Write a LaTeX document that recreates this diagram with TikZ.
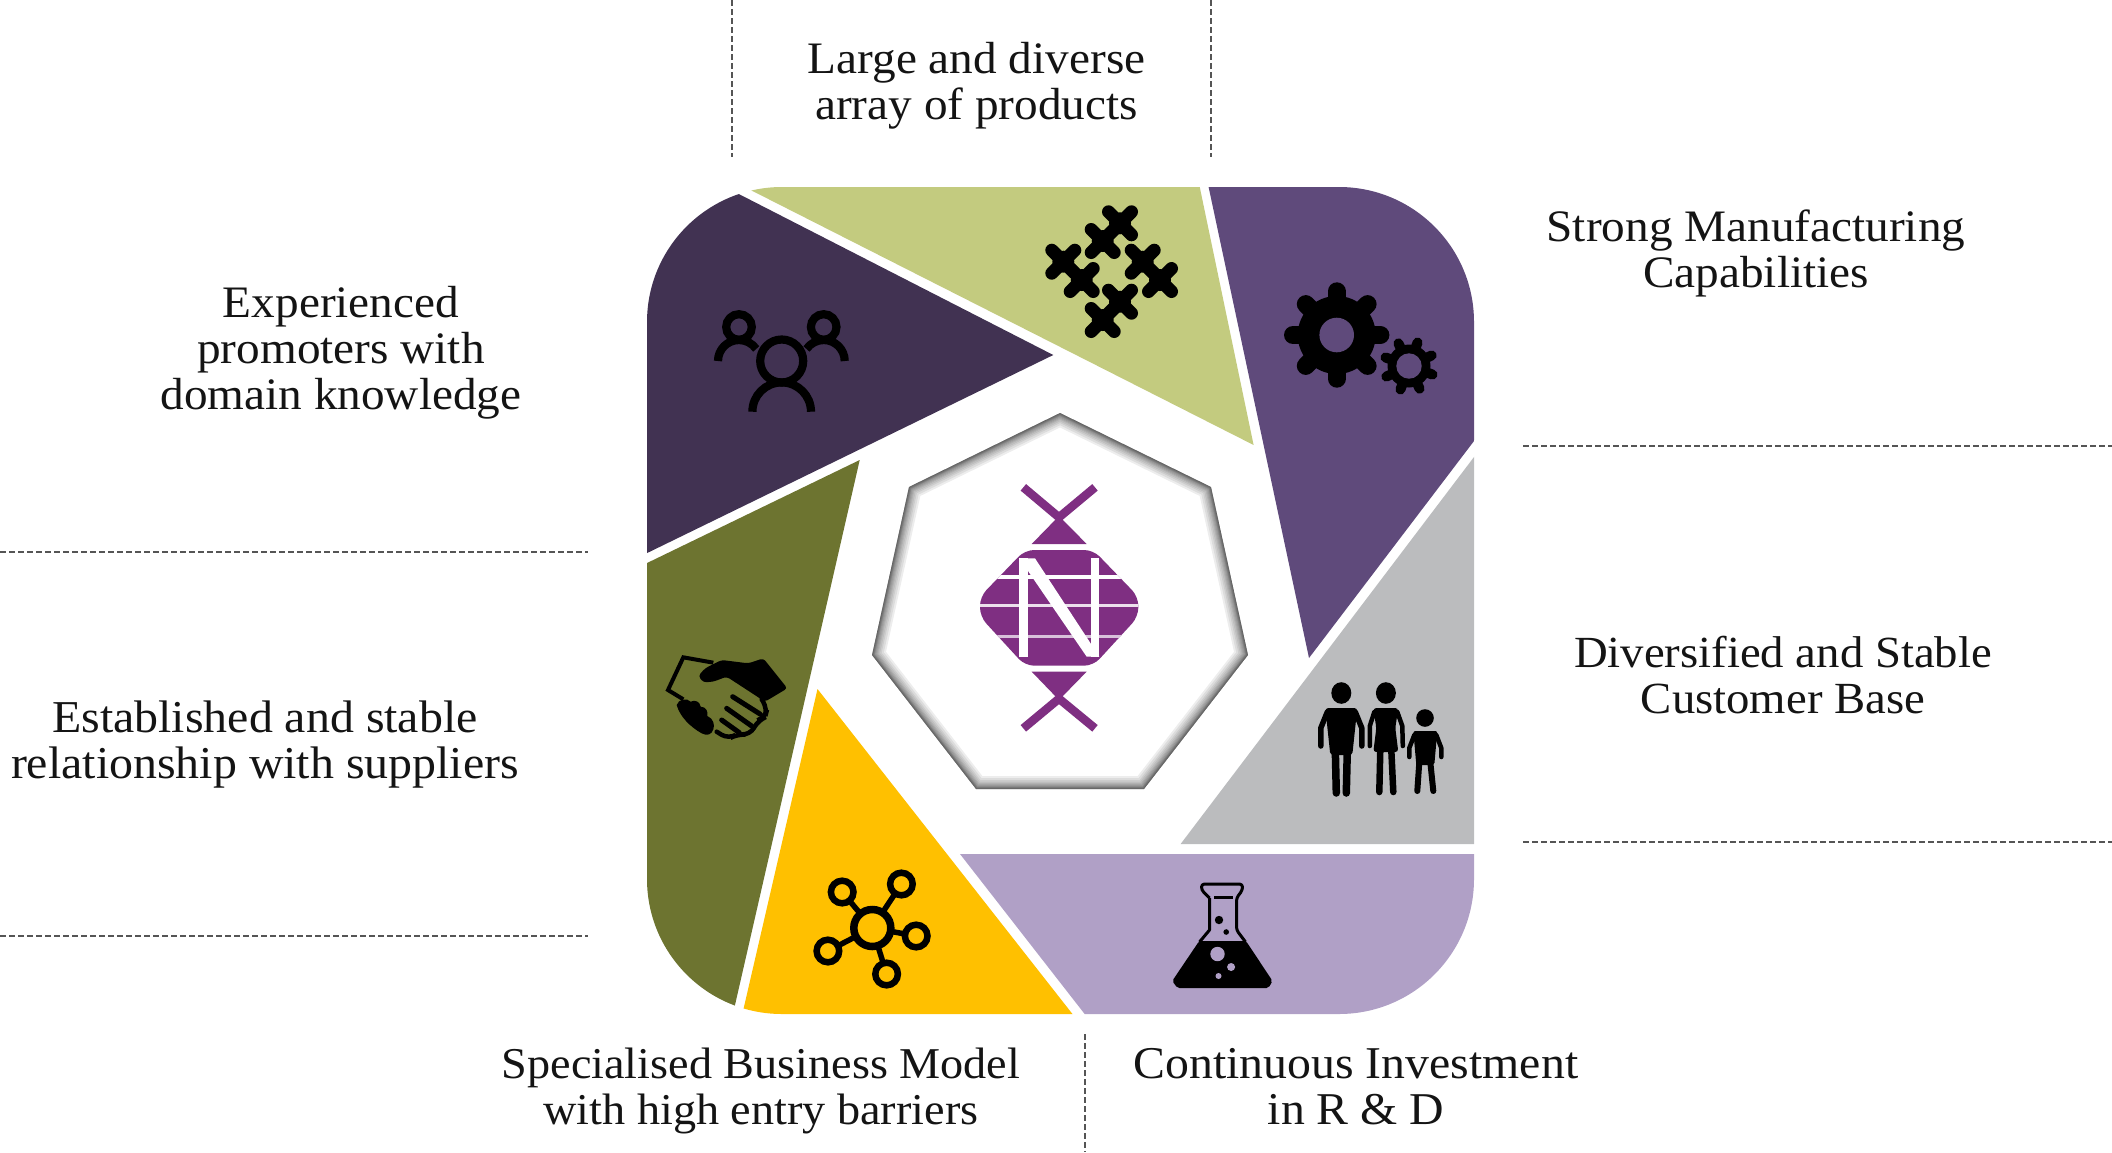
\documentclass[tikz,border=0pt]{standalone}
\usepackage{fontspec}
\setmainfont{Liberation Serif}[FakeStretch=1.05]
\definecolor{cdark}{HTML}{413252}
\definecolor{clime}{HTML}{C3CB7F}
\definecolor{cpurple}{HTML}{5F4A7B}
\definecolor{cgray}{HTML}{BBBCBE}
\definecolor{clight}{HTML}{B0A0C6}
\definecolor{cyellow}{HTML}{FFC000}
\definecolor{colive}{HTML}{6D7430}
\definecolor{clogo}{HTML}{7F2F82}
\definecolor{cdash}{HTML}{555555}
\tikzset{
  label text/.style={font=\fontsize{45}{46}\selectfont,align=center,inner sep=0pt,text=black!92},
  divider/.style={draw=cdash,line width=1.6pt,dash pattern=on 5.5pt off 3.5pt},
}
\begin{document}
\begin{tikzpicture}[x=1pt,y=-1pt]
\useasboundingbox (0,0) rectangle (2112,1152);
% segments
\begin{scope}
\clip[rounded corners=135pt] (647,187) rectangle (1474,1014);
\fill[cdark] (1053.3,355) -- (645,146) -- (600,146) -- (600,576) -- cycle;
\fill[clime] (1253.6,445) -- (700,164.4) -- (700,150) -- (1192,150) -- cycle;
\fill[cpurple] (1309,658) -- (1200.7,150) -- (1520,150) -- (1520,380.5) -- cycle;
\fill[cgray] (1180.6,844) -- (1520,396.3) -- (1520,844) -- cycle;
\fill[clight] (960,854) -- (1520,854) -- (1520,1050) -- (1112.7,1050) -- cycle;
\fill[cyellow] (817.5,689) -- (1100.7,1050) -- (734,1050) -- cycle;
\fill[colive] (859.7,460) -- (600,585.8) -- (600,1050) -- (724.7,1050) -- cycle;
\end{scope}
% heptagon with inner shadow
\begin{scope}
\clip (1060,413) -- (1211,487) -- (1248,655) -- (1144,789) -- (976,789) -- (872,655) -- (909,487) -- cycle;
\foreach \w in {1,2,3,4,5,6,8,10,12,15,18,22,26}
  \draw[black,opacity=.07,line width=\w pt,line join=miter] (1060,413) -- (1211,487) -- (1248,655) -- (1144,789) -- (976,789) -- (872,655) -- (909,487) -- cycle;
\end{scope}
% logo
\begin{scope}[shift={(860,400)},x=.33333pt,y=-.33333pt]
\draw[clogo,line width=8.5pt] (490,262) -- (597,352) -- (705,262);
\draw[clogo,line width=8.5pt] (490,985) -- (597,896) -- (705,985);
\fill[clogo] (597,348) -- (680,432) -- (515,432) -- cycle;
\fill[clogo] (597,900) -- (680,815) -- (515,815) -- cycle;
\begin{scope}
\clip[rounded corners=9pt] (495,450) -- (700,450) -- (835,590) -- (835,650) -- (700,797) -- (495,797) -- (360,650) -- (360,590) -- cycle;
\fill[clogo] (350,440) rectangle (845,800);
\fill[white] (350,524) rectangle (845,538);
\fill[white!85!clogo] (350,612) rectangle (845,622);
\fill[white!70!clogo] (350,704) rectangle (845,714);
\end{scope}
\fill[white] (478,475) rectangle (505,770);
\fill[white] (692,475) rectangle (718,770);
\fill[white] (478,475) -- (525,475) -- (718,770) -- (680,770) -- cycle;
\end{scope}
% people icon
\begin{scope}[line width=8.2pt,draw=black]
\draw (739,327) circle[radius=12.8];
\draw (823.7,327) circle[radius=12.8];
\draw (781.7,361) circle[radius=21.5];
\draw (718,361) arc[start angle=180,end angle=325,radius=21];
\draw (844.7,361) arc[start angle=360,end angle=215,radius=21];
\draw (752.4,411.7) arc[start angle=180,end angle=360,radius=29.3];
\end{scope}
% puzzle icon
\foreach \cx/\cy in {1120/223.3,1102.7/241,1142.7/261.7,1160/280,1120/301.7,1102.7/320,1063.3/261.7,1081.7/280}{
  \fill (\cx,\cy) circle[radius=11];
  \draw[line width=13pt,line cap=round] (\cx-11.5,\cy-11.5) -- (\cx+11.5,\cy+11.5);
  \draw[line width=13pt,line cap=round] (\cx-11.5,\cy+11.5) -- (\cx+11.5,\cy-11.5);
}
% gears
\fill (1336.7,335) circle[radius=39];
\foreach \a in {0,45,...,315}
  \draw[line width=18pt,line cap=round] (1336.7,335) -- ++(\a:43.7);
\fill[cpurple] (1336.7,335) circle[radius=17.3];
\fill (1409,366) circle[radius=21.5];
\foreach \a in {20,65,...,335}
  \draw[line width=10pt,line cap=round] (1409,366) -- ++(\a:25);
\fill[cpurple] (1409,366) circle[radius=12.7];
% handshake
\begin{scope}[shift={(650,640)},x=.33333pt,y=-.33333pt]
\draw[line width=4pt,line join=miter] (190,68) -- (100,52) -- (54,150) -- (100,178);
\fill[rounded corners=3pt] (340,55) -- (412,145) -- (345,185) -- (230,110) -- (190,125) -- (160,127) -- (145,108) -- (165,85) -- (215,60) -- (295,70) -- cycle;
\draw[line width=4.5pt,rounded corners=8pt,line cap=round] (335,178) -- (352,205) -- (345,232) -- (325,240) -- (300,285) -- (262,282) -- (235,297) -- (200,275);
\foreach \x/\y/\u/\v in {248/170/330/222,230/205/305/258,215/240/268/278}
  \draw[line width=5pt,line cap=round] (\x,\y) -- (\u,\v);
\fill (80,195) .. controls (85,178) and (110,172) .. (122,185) .. controls (135,178) and (150,185) .. (152,200) .. controls (168,200) and (175,215) .. (172,228) .. controls (190,235) and (195,255) .. (190,268) .. controls (185,285) and (170,288) .. (155,280) .. controls (120,260) and (90,230) .. (80,195) -- cycle;
\end{scope}
% network
\foreach \x/\y in {842.2/892,901.4/884,916.2/936,886.6/974,827.9/951}
  \draw[line width=5.5pt] (872.3,928) -- (\x,\y);
\fill[cyellow] (842.2,892) circle[radius=11.3] (901.4,884) circle[radius=11.3] (916.2,936) circle[radius=11.3] (886.6,974) circle[radius=11.3] (827.9,951) circle[radius=11.3] (872.3,928) circle[radius=18.5];
\draw[line width=7.5pt] (872.3,928) circle[radius=18.5];
\foreach \x/\y in {842.2/892,901.4/884,916.2/936,886.6/974,827.9/951}
  \draw[line width=6.5pt] (\x,\y) circle[radius=11.3];
% flask
\begin{scope}[shift={(-3.5,0)}]
\draw[line width=3pt,line join=round,rounded corners=3pt] (1213,898) -- (1205,890) -- (1205,884) -- (1246,884) -- (1246,890) -- (1240,898) -- (1240,930) -- (1249,942);
\draw[line width=3pt,line join=round] (1213,898) -- (1213,930) -- (1203,942);
\fill[rounded corners=2pt] (1202.7,941) -- (1249.5,941) -- (1276,981) -- (1272,988) -- (1181,988) -- (1175.7,981) -- cycle;
\fill (1217,895.5) rectangle (1236,899);
\fill (1222.5,920) circle[radius=4.2];
\fill (1229.7,932) circle[radius=2.8];
\fill[clight] (1221,954) circle[radius=7.2] (1234.6,967) circle[radius=4] (1222,976) circle[radius=3];
\end{scope}
% family
\tikzset{limb/.style={line width=7.5pt,line cap=round,line join=round},arm/.style={line width=5.5pt,line cap=round,line join=round}}
\begin{scope}[shift={(-3.7,0)}]
\fill (1345,693) circle[x radius=10,y radius=10.8];
\fill[rounded corners=3pt] (1329,708) -- (1361,708) -- (1356,755) -- (1334,755) -- cycle;
\draw[arm] (1331,712) -- (1324.5,728) -- (1324.5,746);
\draw[arm] (1359,712) -- (1365.5,728) -- (1365.5,746);
\draw[limb] (1339,750) -- (1340,793);
\draw[limb] (1351,750) -- (1350,793);
\fill (1389.6,693) circle[x radius=10,y radius=10.8];
\fill[rounded corners=3pt] (1377,708) -- (1402,708) -- (1399,728) -- (1402,752) -- (1377,752) -- (1380,728) -- cycle;
\draw[arm,line width=4.5pt] (1378,712) -- (1373.5,726) -- (1373.5,746);
\draw[arm,line width=4.5pt] (1401,712) -- (1406,726) -- (1406.5,746);
\draw[limb,line width=6.5pt] (1384,750) -- (1383,792);
\draw[limb,line width=6.5pt] (1395,750) -- (1397,792);
\fill (1428.7,718) circle[radius=8.8];
\fill[rounded corners=2pt] (1417,731) -- (1441,731) -- (1438,765) -- (1420,765) -- cycle;
\draw[arm,line width=4.5pt] (1418,735) -- (1413,748) -- (1413,757);
\draw[arm,line width=4.5pt] (1440,735) -- (1445,748) -- (1445,757);
\draw[limb,line width=6pt] (1423,762) -- (1421,791);
\draw[limb,line width=6pt] (1434,762) -- (1437,791);
\end{scope}
% dividers
\coordinate (v1a) at (732,0); \coordinate (v1b) at (732,157);
\coordinate (v2a) at (1211,0); \coordinate (v2b) at (1211,157);
\coordinate (r1a) at (1523,446); \coordinate (r1b) at (2112,446);
\coordinate (r2a) at (1523,842); \coordinate (r2b) at (2112,842);
\coordinate (l1a) at (0,552); \coordinate (l1b) at (587.5,552);
\coordinate (l2a) at (0,936); \coordinate (l2b) at (587.5,936);
\coordinate (b1a) at (1085,1034); \coordinate (b1b) at (1085,1152);
\foreach \a/\b in {v1a/v1b,v2a/v2b,r1a/r1b,r2a/r2b,l1a/l1b,l2a/l2b,b1a/b1b}
  \draw[divider] (\a) -- (\b);
% labels
\node[label text] (products) at (976.6,86) {Large and diverse\\array of products};
\node[label text] (manufacturing) at (1756,253) {Strong Manufacturing\\Capabilities};
\node[label text] (promoters) at (341,353) {Experienced\\promoters with\\domain knowledge};
\node[label text,font=\fontsize{45.6}{46}\selectfont] (suppliers) at (265,745) {Established and stable\\relationship with suppliers};
\node[label text,font=\fontsize{44.5}{46}\selectfont] (customers) at (1783,675) {Diversified and Stable\\Customer Base};
\node[label text,font=\fontsize{44}{46}\selectfont] (model) at (761,1091) {Specialised Business Model\\with high entry barriers};
\node[label text,font=\fontsize{45.5}{46}\selectfont] (rnd) at (1356,1087) {Continuous Investment\\in R \& D};
\end{tikzpicture}
\end{document}
